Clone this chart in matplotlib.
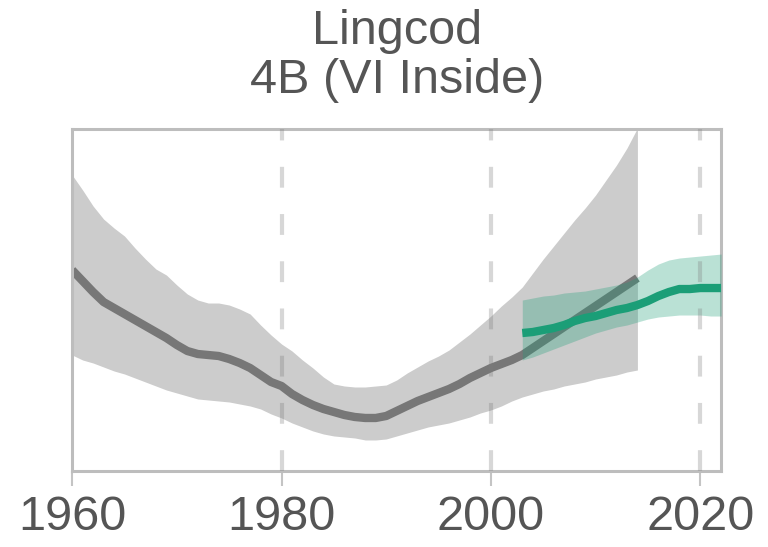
import matplotlib
matplotlib.use("Agg")
import matplotlib.pyplot as plt
import numpy as np

plt.rcParams['font.family'] = ['Liberation Sans', 'DejaVu Sans']
plt.rcParams['lines.scale_dashes'] = False

# historical reconstruction (relative biomass) with interval
hist_years = np.arange(1960, 2015)
hist_mean = [1.99, 1.88, 1.77, 1.67, 1.61, 1.55, 1.49, 1.43, 1.37, 1.31,
             1.24, 1.18, 1.15, 1.14, 1.13, 1.10, 1.06, 1.01, 0.94, 0.87,
             0.83, 0.75, 0.69, 0.64, 0.60, 0.57, 0.54, 0.52, 0.51, 0.51,
             0.53, 0.58, 0.63, 0.68, 0.72, 0.76, 0.80, 0.85, 0.91, 0.96,
             1.01, 1.05, 1.09, 1.14, 1.21, 1.28, 1.35, 1.42, 1.49, 1.56,
             1.63, 1.70, 1.77, 1.84, 1.91]
hist_hi = [2.94, 2.79, 2.63, 2.50, 2.41, 2.33, 2.21, 2.10, 2.00, 1.94,
           1.84, 1.75, 1.69, 1.66, 1.66, 1.64, 1.60, 1.55, 1.44, 1.34,
           1.25, 1.18, 1.09, 1.01, 0.92, 0.85, 0.83, 0.82, 0.82, 0.83,
           0.84, 0.89, 0.96, 1.02, 1.08, 1.13, 1.19, 1.27, 1.35, 1.44,
           1.53, 1.63, 1.72, 1.82, 1.96, 2.10, 2.23, 2.36, 2.49, 2.61,
           2.74, 2.89, 3.04, 3.21, 3.41]
hist_lo = [1.14, 1.09, 1.06, 1.02, 0.98, 0.95, 0.91, 0.87, 0.83, 0.79,
           0.76, 0.73, 0.70, 0.69, 0.68, 0.67, 0.65, 0.63, 0.60, 0.55,
           0.51, 0.46, 0.42, 0.38, 0.35, 0.33, 0.32, 0.31, 0.29, 0.29,
           0.30, 0.33, 0.36, 0.39, 0.42, 0.44, 0.46, 0.49, 0.52, 0.56,
           0.59, 0.63, 0.68, 0.72, 0.75, 0.78, 0.80, 0.83, 0.85, 0.87,
           0.90, 0.92, 0.94, 0.97, 0.99]

# recent survey index with interval
new_years = np.arange(2003, 2023)
new_mean = [1.36, 1.37, 1.39, 1.41, 1.44, 1.48, 1.51, 1.53, 1.56, 1.59,
            1.61, 1.64, 1.68, 1.73, 1.77, 1.80, 1.80, 1.81, 1.81, 1.81]
new_hi = [1.69, 1.71, 1.73, 1.74, 1.76, 1.77, 1.78, 1.80, 1.82, 1.84,
          1.87, 1.92, 1.99, 2.05, 2.09, 2.11, 2.12, 2.13, 2.14, 2.15]
new_lo = [1.09, 1.12, 1.16, 1.20, 1.24, 1.28, 1.32, 1.36, 1.39, 1.42,
          1.44, 1.47, 1.50, 1.52, 1.53, 1.54, 1.54, 1.54, 1.53, 1.53]

decades = [1960, 1980, 2000, 2020]
txt = '#555555'
green = '#1b9e77'

fig = plt.figure(figsize=(7.68, 5.47), dpi=100)
ax = fig.add_axes([0.094, 0.139, 0.845, 0.625])

ax.fill_between(hist_years, hist_lo, hist_hi, color='#cccccc', lw=0, zorder=1)
ax.plot(hist_years, hist_mean, color='#777777', lw=6, solid_capstyle='butt',
        solid_joinstyle='round', zorder=2)
ax.fill_between(new_years, new_lo, new_hi, color=green, alpha=0.3, lw=0, zorder=3)
ax.plot(new_years, new_mean, color=green, lw=6, solid_capstyle='butt',
        solid_joinstyle='round', zorder=4)

for d in decades[1:]:
    ax.axvline(d, color='#7c7c7c', alpha=0.3, lw=3, linestyle=(0, (15, 19)), zorder=5)

ax.set_xlim(1960, 2022)
ax.set_ylim(-0.02, 3.40)
ax.set_xticks(decades)
ax.set_yticks([])
ax.tick_params(axis='x', length=11, width=1.5, color='#c4c4c4',
               labelsize=35, labelcolor=txt, pad=6)
for s in ax.spines.values():
    s.set_color('#bdbdbd')
    s.set_linewidth(2.2)

ax.set_title('Lingcod\n4B (VI Inside)', fontsize=35, color=txt,
             linespacing=1.12, pad=26)

fig.savefig('out.png', dpi=100)
